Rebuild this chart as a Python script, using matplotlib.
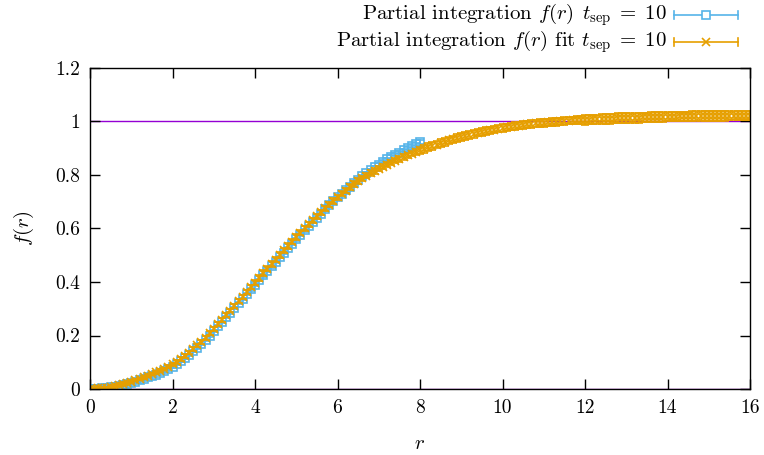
import numpy as np
import matplotlib
matplotlib.use("Agg")
import matplotlib.pyplot as plt
from matplotlib.lines import Line2D

# gnuplot-like look, LaTeX (Computer Modern) fonts
plt.rcParams['font.family'] = ['cmr10', 'DejaVu Serif']
plt.rcParams['mathtext.fontset'] = 'cm'
plt.rcParams['axes.formatter.use_mathtext'] = True

BLUE = '#56B4E9'
ORANGE = '#E69F00'
PURPLE = '#9400D3'

# data: f(r) from partial integration, t_sep = 10, r = 0 .. 8 in steps of 0.1
r_data = [i / 10 for i in range(81)]
f_data = [0.000, 0.000, 0.001, 0.002, 0.004, 0.007, 0.009, 0.012, 0.015, 0.019,
          0.023, 0.028, 0.033, 0.037, 0.043, 0.048, 0.054, 0.061, 0.068, 0.076,
          0.084, 0.094, 0.104, 0.116, 0.128, 0.141, 0.155, 0.169, 0.184, 0.200,
          0.217, 0.234, 0.251, 0.268, 0.285, 0.302, 0.320, 0.337, 0.355, 0.372,
          0.390, 0.407, 0.425, 0.442, 0.459, 0.476, 0.493, 0.510, 0.527, 0.543,
          0.560, 0.577, 0.593, 0.609, 0.625, 0.641, 0.656, 0.672, 0.687, 0.701,
          0.716, 0.730, 0.744, 0.757, 0.770, 0.783, 0.795, 0.807, 0.818, 0.829,
          0.839, 0.849, 0.858, 0.867, 0.876, 0.884, 0.892, 0.900, 0.907, 0.915,
          0.923]
err_data = [0.003] * 20 + [0.004] * 20 + [0.005] * 20 + [0.006] * 21

# fit: r = 0 .. 16 in steps of 0.1
r_fit = [i / 10 for i in range(161)]
f_fit = [0.000, 0.001, 0.002, 0.003, 0.005, 0.008, 0.011, 0.014, 0.018, 0.023,
         0.028, 0.033, 0.038, 0.043, 0.049, 0.055, 0.062, 0.069, 0.076, 0.084,
         0.092, 0.102, 0.112, 0.124, 0.136, 0.149, 0.163, 0.177, 0.192, 0.208,
         0.225, 0.242, 0.259, 0.276, 0.293, 0.310, 0.328, 0.345, 0.363, 0.380,
         0.398, 0.415, 0.433, 0.450, 0.467, 0.484, 0.501, 0.518, 0.535, 0.551,
         0.568, 0.584, 0.600, 0.615, 0.631, 0.646, 0.660, 0.675, 0.689, 0.703,
         0.717, 0.730, 0.742, 0.755, 0.766, 0.777, 0.788, 0.797, 0.807, 0.815,
         0.824, 0.831, 0.839, 0.846, 0.853, 0.860, 0.867, 0.874, 0.880, 0.886,
         0.892, 0.898, 0.904, 0.909, 0.914, 0.919, 0.924, 0.929, 0.933, 0.938,
         0.942, 0.946, 0.950, 0.954, 0.958, 0.961, 0.964, 0.967, 0.970, 0.973,
         0.976, 0.978, 0.981, 0.983, 0.985, 0.987, 0.989, 0.991, 0.993, 0.994,
         0.995, 0.997, 0.998, 0.999, 1.000, 1.002, 1.003, 1.004, 1.005, 1.005,
         1.006, 1.007, 1.008, 1.008, 1.009, 1.010, 1.010, 1.011, 1.012, 1.012,
         1.013, 1.013, 1.014, 1.014, 1.015, 1.015, 1.016, 1.016, 1.017, 1.017,
         1.018, 1.018, 1.018, 1.019, 1.019, 1.019, 1.020, 1.020, 1.020, 1.021,
         1.021, 1.021, 1.021, 1.021, 1.021, 1.022, 1.022, 1.022, 1.022, 1.022,
         1.022]
err_fit = [0.004] * 20 + [0.007] * 20 + [0.010] * 40 + [0.014] * 40 + [0.018] * 41

x_ticks = [0, 2, 4, 6, 8, 10, 12, 14, 16]
y_ticks = [0, 0.2, 0.4, 0.6, 0.8, 1.0, 1.2]
y_ticklabels = ['0', '0.2', '0.4', '0.6', '0.8', '1', '1.2']
ref_levels = [0, 1]

label_data = r'Partial integration $f(r)\;\, t_{\mathrm{sep}} \;=\; 10$'
label_fit = r'Partial integration $f(r)$ fit $t_{\mathrm{sep}} \;=\; 10$'

W, H = 764, 455
fig = plt.figure(figsize=(W / 100, H / 100), dpi=100)
ax = fig.add_axes([90 / W, 1 - 389 / H, 660 / W, 321 / H])

for lvl in ref_levels:
    ax.axhline(lvl, color=PURPLE, lw=1, zorder=1)

ax.errorbar(r_data, f_data, yerr=err_data, fmt='s', mfc='none', mec=BLUE,
            ms=6, mew=1.2, color=BLUE, ecolor=BLUE, elinewidth=1.2, capsize=3,
            capthick=1.2, zorder=2)
ax.errorbar(r_fit, f_fit, yerr=err_fit, fmt='x', ms=6, mew=1.2, color=ORANGE,
            ecolor=ORANGE, elinewidth=1.2, capsize=3, capthick=1.2, zorder=3)

ax.set_xlim(0, 16)
ax.set_ylim(0, 1.2)
ax.set_xticks(x_ticks)
ax.set_xticklabels([str(t) for t in x_ticks])
ax.set_yticks(y_ticks)
ax.set_yticklabels(y_ticklabels)
ax.tick_params(direction='in', top=True, right=True, length=7, width=1,
               labelsize=14, pad=7)
for s in ax.spines.values():
    s.set_linewidth(1)
    s.set_zorder(5)

ax.set_xlabel(r'$r$', fontsize=15)
ax.set_ylabel(r'$f(r)$', fontsize=15)
ax.xaxis.set_label_coords(0.5, -0.145)
ax.yaxis.set_label_coords(-0.082, 0.5)

# gnuplot style key: right aligned text, horizontal error bar sample
def key_entry(y_px, text, color, marker, mfc):
    fy = 1 - y_px / H
    fig.text(667 / W, fy, text, ha='right', va='center', fontsize=15)
    x0, x1, xm = 674 / W, 738 / W, 706 / W
    cap = 4 / H
    fig.add_artist(Line2D([x0, x1], [fy, fy], color=color, lw=1.2,
                          transform=fig.transFigure))
    for xc in (x0, x1):
        fig.add_artist(Line2D([xc, xc], [fy - cap, fy + cap], color=color, lw=1.2,
                              transform=fig.transFigure))
    fig.add_artist(Line2D([xm], [fy], marker=marker, ms=6, mew=1.2, mfc=mfc,
                          mec=color, transform=fig.transFigure))

key_entry(15, label_data, BLUE, 's', 'white')
key_entry(42, label_fit, ORANGE, 'x', ORANGE)

fig.savefig('out.png', dpi=100)
